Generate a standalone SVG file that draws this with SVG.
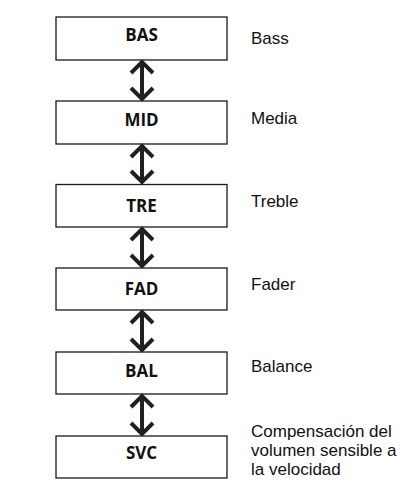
<svg xmlns="http://www.w3.org/2000/svg" width="412" height="482" viewBox="0 0 412 482">
<style>
.box{fill:#fff;stroke:#1a1a1a;stroke-width:1.3}
.bt{font-family:"Open Sans","Noto Sans",sans-serif;font-weight:bold;font-size:17px;fill:#111;text-anchor:middle}
.lb{font-family:"Liberation Sans",Arial,sans-serif;font-size:17px;fill:#111}
.ar{fill:none;stroke:#231f20;stroke-width:4;stroke-linejoin:miter;stroke-linecap:butt}
</style>
<rect width="412" height="482" fill="#fff"/>
<g id="BAS"><rect class="box" x="56" y="17" width="171" height="43"/><text class="bt" x="141.5" y="41">BAS</text></g>
<g id="MID"><rect class="box" x="56" y="101" width="171" height="43"/><text class="bt" x="141.5" y="126">MID</text></g>
<g id="TRE"><rect class="box" x="56" y="184.5" width="171" height="42.5"/><text class="bt" x="141.5" y="212">TRE</text></g>
<g id="FAD"><rect class="box" x="56" y="268" width="171" height="42"/><text class="bt" x="141.5" y="295">FAD</text></g>
<g id="BAL"><rect class="box" x="56" y="352" width="171" height="42"/><text class="bt" x="141.5" y="377">BAL</text></g>
<g id="SVC"><rect class="box" x="56" y="436" width="171" height="42"/><text class="bt" x="141.5" y="459">SVC</text></g>
<g id="labels">
<text class="lb" x="251" y="44">Bass</text>
<text class="lb" x="251" y="124">Media</text>
<text class="lb" x="251" y="207">Treble</text>
<text class="lb" x="251" y="290">Fader</text>
<text class="lb" x="251" y="372">Balance</text>
<text class="lb" x="251" y="437">Compensación del</text>
<text class="lb" x="251" y="456">volumen sensible a</text>
<text class="lb" x="251" y="475">la velocidad</text>
</g>
<g id="connectors">
<path class="ar" d="M142 63V98M131 73L142 62L153 73M131 88L142 99L153 88"/>
<path class="ar" d="M142 147V181M131 157L142 146L153 157M131 171L142 182L153 171"/>
<path class="ar" d="M142 230V265M131 240L142 229L153 240M131 255L142 266L153 255"/>
<path class="ar" d="M142 313V349M131 323L142 312L153 323M131 339L142 350L153 339"/>
<path class="ar" d="M142 397V433M131 407L142 396L153 407M131 423L142 434L153 423"/>
</g>
</svg>
